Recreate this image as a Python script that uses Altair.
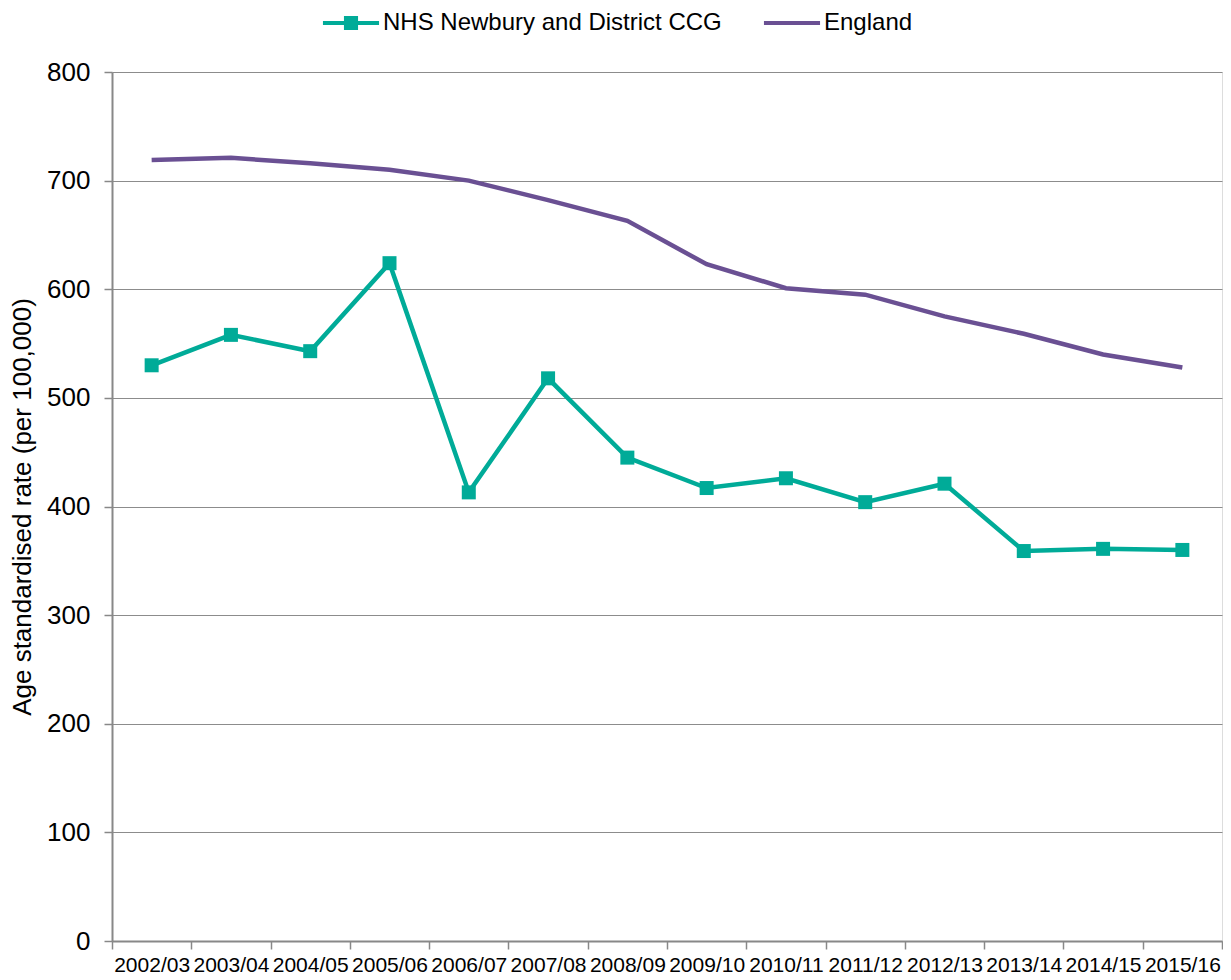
import altair as alt
import pandas as pd

years = ["2002/03", "2003/04", "2004/05", "2005/06", "2006/07", "2007/08", "2008/09",
         "2009/10", "2010/11", "2011/12", "2012/13", "2013/14", "2014/15", "2015/16"]
nhs = [530, 558, 543, 624, 413, 518, 445, 417, 426, 404, 421, 359, 361, 360]
england = [719, 721, 716, 710, 700, 682, 663, 623, 601, 595, 575, 559, 540, 528]

S_NHS = "NHS Newbury and District CCG"
S_ENG = "England"
TEAL = "#00AB98"
PURPLE = "#6A5093"
FONT = "Liberation Sans"

df = pd.DataFrame(
    [{"year": y, "value": v, "series": S_NHS} for y, v in zip(years, nhs)]
    + [{"year": y, "value": v, "series": S_ENG} for y, v in zip(years, england)]
)

x = alt.X("year:N", sort=years, title=None,
          scale=alt.Scale(paddingInner=0, paddingOuter=0),
          axis=alt.Axis(labelAngle=0, labelFontSize=21, labelFont=FONT, labelColor="black",
                        domainColor="#888888", domainWidth=2, tickColor="#888888",
                        tickWidth=1.5, tickSize=8, tickBand="extent", labelPadding=5,
                        grid=False))
y = alt.Y("value:Q", title="Age standardised rate (per 100,000)",
          scale=alt.Scale(domain=[0, 800], nice=False),
          axis=alt.Axis(values=[0, 100, 200, 300, 400, 500, 600, 700, 800],
                        labelFontSize=26, labelFont=FONT, labelColor="black",
                        titleFontSize=26, titleFont=FONT, titleFontWeight="normal",
                        titleColor="black", titlePadding=11,
                        domainColor="#888888", domainWidth=2, tickColor="#888888",
                        tickWidth=1.5, tickSize=8, labelPadding=14,
                        gridColor="#8c8c8c", gridWidth=1.2))

base = alt.Chart(df)

eng_line = base.transform_filter(alt.datum.series == S_ENG).mark_line(
    color=PURPLE, strokeWidth=4.5).encode(x=x, y=y)
nhs_line = base.transform_filter(alt.datum.series == S_NHS).mark_line(
    color=TEAL, strokeWidth=4.5).encode(x=x, y=y)
nhs_pts = base.transform_filter(alt.datum.series == S_NHS).mark_point(
    shape="square", filled=True, opacity=1, size=196, color=TEAL).encode(x=x, y=y)

# legend symbols: a wide line (with a square for the CCG series), drawn wider than the
# nominal symbol box so the legend row stays short
path_nhs = "M-1.87,-0.14H1.87V0.14H-1.87Z M-0.47,-0.47H0.47V0.47H-0.47Z"
path_eng = "M-1.87,-0.14H1.87V0.14H-1.87Z"

leg = dict(title=None, orient="none", direction="horizontal",
           legendX=224, legendY=-64, labelFontSize=24,
           labelFont=FONT, labelColor="black", symbolSize=900, labelLimit=600,
           symbolStrokeWidth=0, columnPadding=41, labelOffset=17)

legend_layer = base.transform_filter("false").mark_point(filled=True, opacity=1).encode(
    x=x, y=y,
    color=alt.Color("series:N", scale=alt.Scale(domain=[S_NHS, S_ENG], range=[TEAL, PURPLE]),
                    legend=alt.Legend(**leg)),
    shape=alt.Shape("series:N", scale=alt.Scale(domain=[S_NHS, S_ENG], range=[path_nhs, path_eng]),
                    legend=alt.Legend(**leg)),
)

chart = alt.layer(eng_line, nhs_line, nhs_pts, legend_layer).properties(
    width=1110, height=869, autosize="none",
    padding={"left": 104, "top": 64, "right": 1, "bottom": 36},
).configure_view(stroke="black", strokeWidth=2).configure(background="white")

chart.save("out.html", embed_options={"renderer": "svg", "actions": False})
